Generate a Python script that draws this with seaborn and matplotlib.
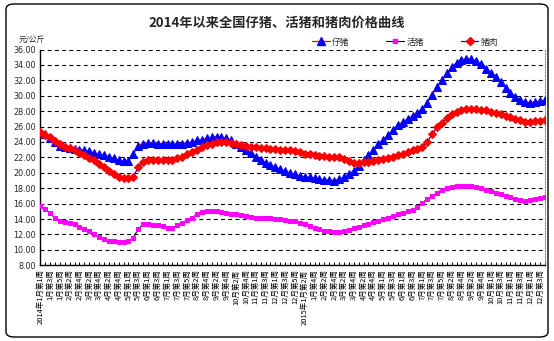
import matplotlib
matplotlib.use("Agg")
import matplotlib.pyplot as plt
import seaborn as sns
import numpy as np
import pandas as pd
from matplotlib.patches import FancyBboxPatch
from matplotlib.lines import Line2D

# ---------------- data ----------------
title = "2014年以来全国仔猪、活猪和猪肉价格曲线"
unit_label = "元/公斤"
series_names = ["仔猪", "活猪", "猪肉"]

piglet = [25.3, 25.0, 24.5, 24.0, 23.5, 23.3, 23.2, 23.1, 23.0, 22.9,
          22.8, 22.6, 22.4, 22.3, 22.1, 21.9, 21.6, 21.5, 21.5, 22.4,
          23.5, 23.8, 23.9, 23.9, 23.8, 23.8, 23.7, 23.7, 23.8, 23.8,
          23.9, 24.0, 24.2, 24.3, 24.5, 24.6, 24.7, 24.6, 24.5, 24.2,
          23.8, 23.4, 23.0, 22.6, 22.1, 21.7, 21.3, 21.0, 20.7, 20.5,
          20.2, 20.0, 19.8, 19.6, 19.5, 19.4, 19.3, 19.2, 19.1, 19.1,
          19.0, 19.2, 19.4, 19.8, 20.3, 20.9, 21.6, 22.3, 23.0, 23.7,
          24.3, 24.9, 25.6, 26.2, 26.6, 27.0, 27.4, 27.8, 28.3, 29.1,
          30.1, 31.1, 32.0, 32.9, 33.7, 34.3, 34.7, 34.8, 34.8, 34.5,
          34.1, 33.5, 33.0, 32.4, 31.8, 31.0, 30.4, 29.9, 29.5, 29.2,
          29.1, 29.2, 29.3, 29.4]

live_hog = [15.7, 15.3, 14.8, 14.1, 13.8, 13.6, 13.5, 13.3, 13.0, 12.7,
            12.4, 12.0, 11.7, 11.4, 11.2, 11.1, 11.0, 11.0, 11.1, 11.6,
            12.7, 13.3, 13.3, 13.2, 13.2, 13.1, 12.9, 12.9, 13.2, 13.5,
            13.9, 14.2, 14.6, 14.9, 15.0, 15.0, 15.0, 14.9, 14.8, 14.7,
            14.6, 14.5, 14.4, 14.3, 14.2, 14.2, 14.1, 14.1, 14.0, 14.0,
            13.9, 13.8, 13.7, 13.5, 13.3, 13.1, 12.9, 12.7, 12.5, 12.4,
            12.3, 12.3, 12.4, 12.6, 12.8, 13.0, 13.2, 13.4, 13.6, 13.8,
            14.0, 14.2, 14.4, 14.6, 14.8, 15.0, 15.2, 15.6, 16.1, 16.6,
            17.0, 17.4, 17.8, 18.0, 18.2, 18.3, 18.3, 18.3, 18.3, 18.2,
            18.0, 17.8, 17.6, 17.4, 17.2, 17.0, 16.8, 16.6, 16.5, 16.4,
            16.5, 16.6, 16.7, 16.8]

pork = [25.3, 24.9, 24.6, 24.1, 23.7, 23.4, 23.2, 23.0, 22.6, 22.3,
        21.9, 21.6, 21.1, 20.7, 20.3, 19.9, 19.5, 19.3, 19.3, 19.5,
        20.7, 21.4, 21.6, 21.7, 21.7, 21.6, 21.6, 21.6, 21.9, 22.1,
        22.4, 22.7, 23.0, 23.3, 23.6, 23.8, 24.0, 24.0, 24.0, 23.9,
        23.8, 23.6, 23.5, 23.4, 23.3, 23.2, 23.2, 23.1, 23.1, 23.0,
        23.0, 22.9, 22.8, 22.7, 22.5, 22.4, 22.3, 22.2, 22.2, 22.1,
        22.0, 22.0, 21.8, 21.5, 21.3, 21.3, 21.4, 21.4, 21.5, 21.6,
        21.8, 21.9, 22.1, 22.3, 22.5, 22.7, 22.9, 23.1, 23.4, 24.0,
        25.0, 25.9, 26.5, 27.1, 27.6, 27.9, 28.1, 28.3, 28.3, 28.3,
        28.2, 28.1, 27.9, 27.8, 27.6, 27.4, 27.2, 27.0, 26.8, 26.6,
        26.6, 26.7, 26.7, 26.8]

tick_labels = ["2014年1月第1周", "1月第3周", "1月第5周", "2月第2周", "2月第4周",
               "3月第2周", "3月第4周", "4月第2周", "4月第4周", "5月第1周",
               "5月第3周", "6月第1周", "6月第3周", "7月第1周", "7月第3周",
               "7月第5周", "8月第2周", "8月第4周", "9月第2周", "9月第4周",
               "10月第2周", "10月第4周", "11月第1周", "11月第3周", "12月第1周",
               "12月第3周", "12月第5周", "2015年1月第2周", "1月第4周", "2月第2周",
               "2月第4周", "3月第2周", "3月第4周", "4月第2周", "4月第4周",
               "5月第1周", "5月第3周", "6月第1周", "6月第3周", "7月第1周",
               "7月第3周", "7月第5周", "8月第2周", "8月第4周", "9月第2周",
               "9月第4周", "10月第1周", "10月第3周", "11月第1周", "11月第3周",
               "12月第1周", "12月第3周"]

y_ticks = [8, 10, 12, 14, 16, 18, 20, 22, 24, 26, 28, 30, 32, 34, 36]

# ---------------- style ----------------
sns.set_theme(style="white")
plt.rcParams['font.family'] = ['Noto Sans CJK SC', 'DejaVu Sans']
plt.rcParams['axes.unicode_minus'] = False

week = np.arange(len(piglet))
df = pd.DataFrame({"week": week, "仔猪": piglet, "活猪": live_hog, "猪肉": pork})

fig = plt.figure(figsize=(5.54, 3.41), dpi=100)
fig.patch.set_facecolor("white")
ax = fig.add_axes([40 / 554, 1 - 265.3 / 341, 505 / 554, (265.3 - 49.5) / 341])

# horizontal dashed gridlines
for yv in y_ticks[1:]:
    ax.axhline(yv, color="black", lw=0.8, ls=(0, (3.5, 3)), zorder=0)

sns.lineplot(data=df, x="week", y="仔猪", ax=ax, color="red", lw=0.9,
             marker="^", markersize=5.5, markerfacecolor="#0000ff",
             markeredgecolor="#0000ff", zorder=3)
sns.lineplot(data=df, x="week", y="活猪", ax=ax, color="black", lw=0.8,
             marker="s", markersize=2.4, markerfacecolor="#ff00ff",
             markeredgecolor="#ff00ff", zorder=3)
sns.lineplot(data=df, x="week", y="猪肉", ax=ax, color="#0000ff", lw=0.9,
             marker="D", markersize=4.3, markerfacecolor="#ff0000",
             markeredgecolor="#ff0000", zorder=4)

ax.set_xlim(-0.05, len(week) - 0.95)
ax.set_ylim(8, 36)
ax.set_yticks(y_ticks)
ax.set_yticklabels([f"{v:.2f}" for v in y_ticks], fontsize=5.8,
                   family=['DejaVu Sans'])
ax.set_xticks(np.arange(0, 2 * len(tick_labels), 2))
ax.set_xticklabels(tick_labels, rotation=90, fontsize=5.4)
ax.set_xticks(week, minor=True)
ax.tick_params(axis="x", which="both", direction="in", length=2.5, width=0.7,
               bottom=True, pad=3, colors="black")
ax.tick_params(axis="y", which="major", direction="out", length=0, pad=3,
               left=False)
ax.set_xlabel("")
ax.set_ylabel("")

for s in ["left", "bottom"]:
    ax.spines[s].set_color("black")
    ax.spines[s].set_linewidth(1.0)
ax.spines["top"].set_visible(False)
ax.spines["right"].set_color("#888888")
ax.spines["right"].set_linestyle((0, (1, 1.5)))
ax.spines["right"].set_linewidth(0.8)

# title and unit
fig.text(0.5, 1 - 22.5 / 341, title, ha="center", va="center",
         fontsize=9.5, fontweight="bold")
fig.text(19 / 554, 1 - 40 / 341, unit_label, ha="left", va="center",
         fontsize=5.6, style="italic")

# legend
handles = [
    Line2D([], [], color="red", lw=0.9, marker="^", markersize=5.5,
           markerfacecolor="#0000ff", markeredgecolor="#0000ff"),
    Line2D([], [], color="black", lw=0.8, marker="s", markersize=2.4,
           markerfacecolor="#ff00ff", markeredgecolor="#ff00ff"),
    Line2D([], [], color="#0000ff", lw=0.9, marker="D", markersize=4.3,
           markerfacecolor="#ff0000", markeredgecolor="#ff0000"),
]
fig.legend(handles, series_names, loc="center left",
           bbox_to_anchor=(312 / 554, 1 - 42 / 341), ncol=3, frameon=False,
           fontsize=6.3, handlelength=2.0, handletextpad=0.3,
           columnspacing=4.2, borderaxespad=0, borderpad=0)

# rounded chart border
border = FancyBboxPatch((6 / 554, 4 / 341), 542 / 554, 333 / 341,
                        boxstyle="round,pad=0,rounding_size=0.015",
                        transform=fig.transFigure, fill=False,
                        edgecolor="black", lw=1.0)
fig.patches.append(border)

fig.savefig("out.png", dpi=100)
